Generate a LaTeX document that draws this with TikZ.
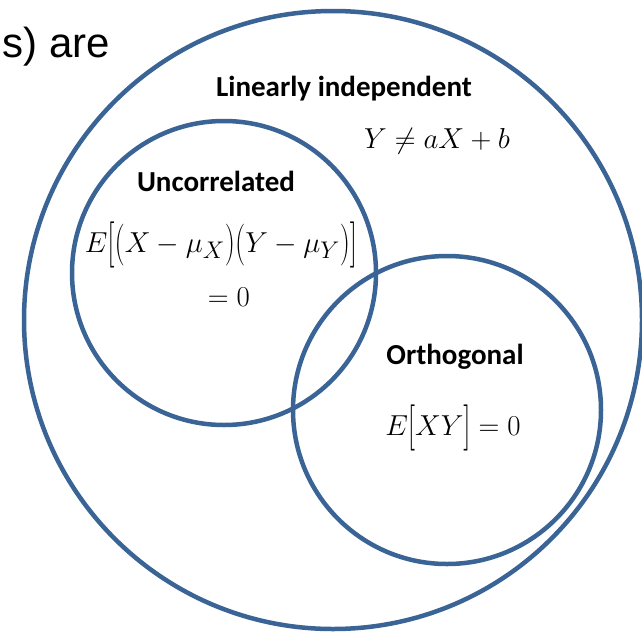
\documentclass[tikz,border=0pt]{standalone}
\usepackage{fontspec}
\newfontfamily\calib{Carlito}
\newfontfamily\arialf{Liberation Sans}
\definecolor{ring}{HTML}{3A6496}
\newcommand\tallbr[2]{\mathord{\vcenter{\hbox{\scalebox{1}[#1]{$#2$}}}}}
\tikzset{
  venn/.style={draw=ring, line width=4.5pt, fill=none},
  head/.style={font=\calib\bfseries\fontsize{29}{34}\selectfont, inner sep=0pt, anchor=center},
  formula/.style={font=\fontsize{24.88}{30}\selectfont, inner sep=0pt, anchor=center, scale=1.16, transform shape},
}
\begin{document}
\begin{tikzpicture}[x=1pt,y=-1pt]
\useasboundingbox (0,0) rectangle (642,632);
\fill[white] (0,0) rectangle (642,632);
\node[font=\arialf\fontsize{42}{46}\selectfont, inner sep=0pt, anchor=east] (frag) at (110,47) {s) are};
\draw[venn] (333,320) circle (309);
\draw[venn] (224,273) circle (152);
\draw[venn] (447,410) circle (154);
\node[head] (lin) at (344,89) {Linearly independent};
\node[formula] (linf) at (437,141) {$Y \neq aX + b$};
\node[head] (unc) at (216,181) {Uncorrelated};
\node[formula] (uncf) at (221,245) {$E\tallbr{1.6}{[}\tallbr{1.45}{(}X-\mu_X\tallbr{1.45}{)}\tallbr{1.45}{(}Y-\mu_Y\tallbr{1.45}{)}\tallbr{1.6}{]}$};
\node[formula] (unc0) at (229,297) {$=0$};
\node[head] (orth) at (455,357) {Orthogonal};
\node[formula] (orthf) at (453,428) {$E\tallbr{1.6}{[}XY\tallbr{1.6}{]}=0$};
\end{tikzpicture}
\end{document}
